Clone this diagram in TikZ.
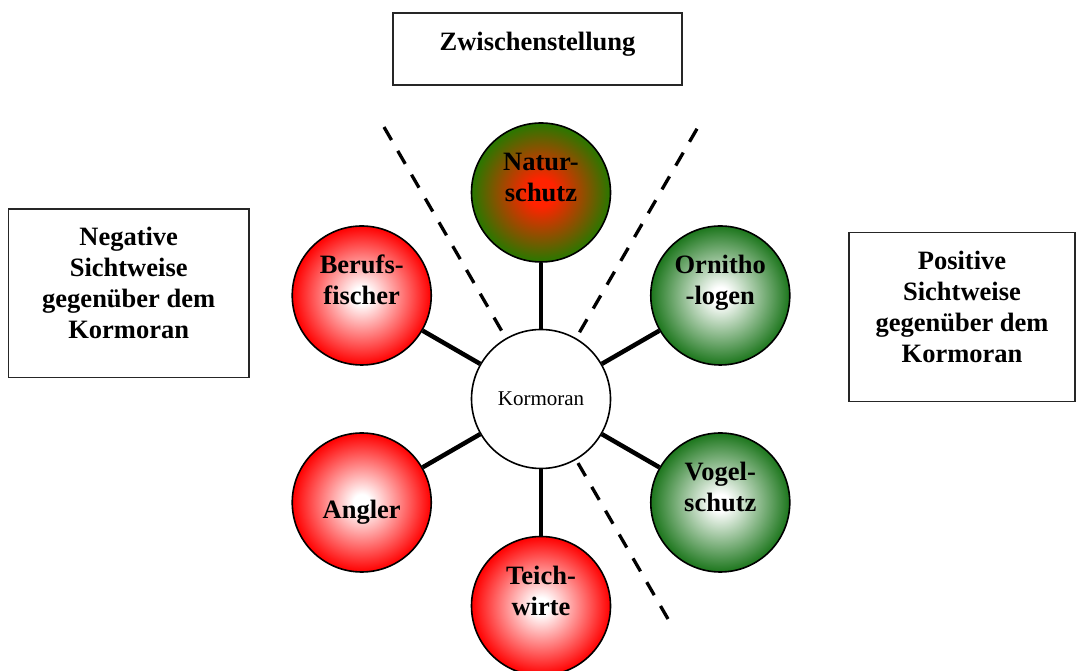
\documentclass[tikz,border=0pt]{standalone}
\usepackage{fontspec}
\setmainfont{Liberation Serif}
\definecolor{gruen}{RGB}{28,118,28}
\definecolor{naturgruen}{RGB}{40,120,0}
\definecolor{naturrot}{RGB}{255,35,0}
\pgfdeclareradialshading{rotball}{\pgfpoint{0bp}{0bp}}{color(0bp)=(white); color(3bp)=(white); color(25bp)=(red); color(50bp)=(red)}
\pgfdeclareradialshading{gruenball}{\pgfpoint{0bp}{0bp}}{color(0bp)=(white); color(3bp)=(white); color(25bp)=(gruen); color(50bp)=(gruen)}
\pgfdeclareradialshading{naturball}{\pgfpoint{0bp}{0bp}}{color(0bp)=(naturrot); color(5bp)=(naturrot); color(25bp)=(naturgruen); color(50bp)=(naturgruen)}
\tikzset{
  gruppe/.style={circle, draw, line width=1.6pt, minimum size=139pt, inner sep=0pt,
    align=center, font=\bfseries\fontsize{26.5}{31}\selectfont},
  gegner/.style={gruppe, shading=rotball},
  freund/.style={gruppe, shading=gruenball},
  kasten/.style={draw=black!85, line width=1.3pt, inner sep=0pt, align=center,
    font=\bfseries\fontsize{26.5}{31}\selectfont},
  verbindung/.style={line width=4.5pt},
  trennlinie/.style={line width=3.3pt, dash pattern=on 15pt off 12.5pt}
}
\begin{document}
\begin{tikzpicture}[x=1pt,y=1pt]
	\useasboundingbox (0,0) rectangle (1076,671);
	% Mitte
	\node[circle, draw, line width=1.6pt, fill=white, minimum size=139pt, inner sep=0pt,
		font=\fontsize{21}{25}\selectfont] (korm) at (541,272) {Kormoran};
	% Gruppen rundherum
	\node[gruppe, shading=naturball] (nat) at ([shift={(90:206.5)}]korm.center) {Natur-\\schutz\\\mbox{}};
	\node[freund] (orn) at ([shift={(30:207)}]korm.center) {Ornitho\\-logen\\\mbox{}};
	\node[freund] (vog) at ([shift={(-30:207)}]korm.center) {Vogel-\\schutz\\\mbox{}};
	\node[gegner] (tei) at ([shift={(-90:207)}]korm.center) {Teich-\\wirte\\\mbox{}};
	\node[gegner, text height=38pt] (ang) at ([shift={(210:207)}]korm.center) {Angler};
	\node[gegner] (ber) at ([shift={(150:207)}]korm.center) {Berufs-\\fischer\\\mbox{}};
	\draw[verbindung] (korm) -- (nat);
	\draw[verbindung] (korm) -- (orn);
	\draw[verbindung] (korm) -- (vog);
	\draw[verbindung] (korm) -- (tei);
	\draw[verbindung] (korm) -- (ang);
	\draw[verbindung] (korm) -- (ber);
	% Trennlinien
	\draw[trennlinie] ([shift={(120:314)}]korm.center) -- ([shift={(120:72)}]korm.center);
	\draw[trennlinie] ([shift={(60:312)}]korm.center) -- ([shift={(60:72)}]korm.center);
	\draw[trennlinie] ([shift={(-60:254)}]korm.center) -- ([shift={(-60:70)}]korm.center);
	% Kaesten
	\node[kasten, minimum width=289pt, minimum height=72pt, text depth=15pt] (zwi) at (537.5,622) {Zwischenstellung};
	\node[kasten, minimum width=240.5pt, minimum height=168.7pt, text depth=21pt] (neg) at (128.7,377.6) {Negative\\Sichtweise\\gegenüber dem\\Kormoran};
	\node[kasten, minimum width=226pt, minimum height=169pt, text depth=21pt] (pos) at (962,353.8) {Positive\\Sichtweise\\gegenüber dem\\Kormoran};
\end{tikzpicture}
\end{document}
